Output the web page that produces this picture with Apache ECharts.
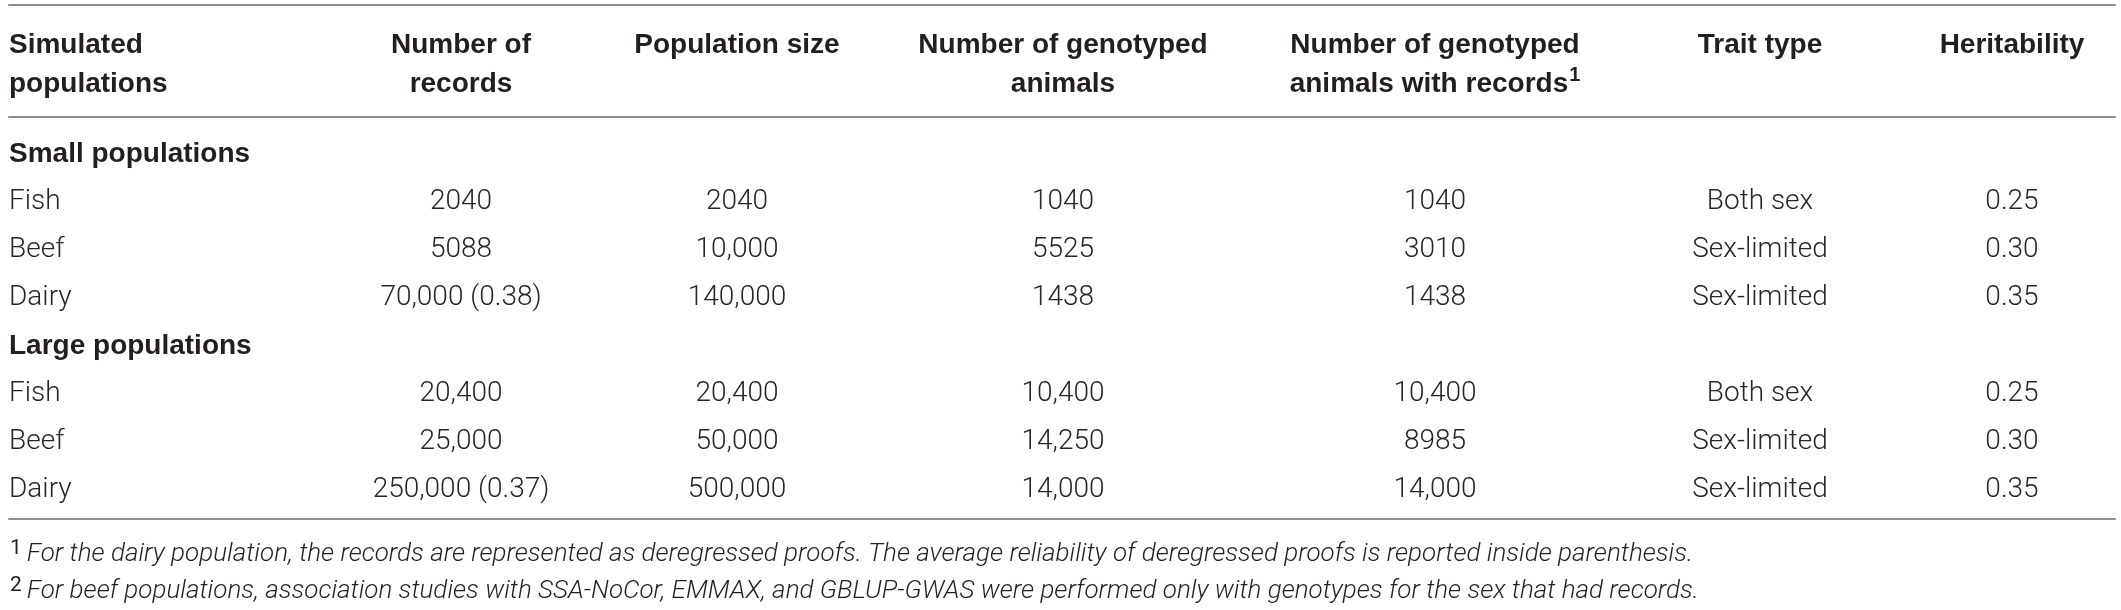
<!DOCTYPE html>
<html>
<head>
<meta charset="UTF-8">
<title>Simulated populations</title>
<script src="https://cdn.jsdelivr.net/npm/echarts@6/dist/echarts.min.js"></script>
<style>
  html, body { margin: 0; background: #fff; }
  #main { width: 2121px; height: 610px; }
</style>
</head>
<body>
<div id="main"></div>
<script>
// table content
var headers = ['Simulated\npopulations', 'Number of\nrecords', 'Population size',
  'Number of genotyped\nanimals', 'Number of genotyped\nanimals with records{sup|1}',
  'Trait type', 'Heritability'];
var groups = ['Small populations', 'Large populations'];
var species = ['Fish', 'Beef', 'Dairy'];
var smallRecords = ['2040', '5088', '70,000 (0.38)'];
var smallPopSize = ['2040', '10,000', '140,000'];
var smallGenotyped = ['1040', '5525', '1438'];
var smallGenoRecords = ['1040', '3010', '1438'];
var largeRecords = ['20,400', '25,000', '250,000 (0.37)'];
var largePopSize = ['20,400', '50,000', '500,000'];
var largeGenotyped = ['10,400', '14,250', '14,000'];
var largeGenoRecords = ['10,400', '8985', '14,000'];
var traitType = ['Both sex', 'Sex-limited', 'Sex-limited'];
var heritability = ['0.25', '0.30', '0.35'];
var footnotes = [
  'For the dairy population, the records are represented as deregressed proofs. The average reliability of deregressed proofs is reported inside parenthesis.',
  'For beef populations, association studies with SSA-NoCor, EMMAX, and GBLUP-GWAS were performed only with genotypes for the sex that had records.'
];

// layout: column anchor on the x scale (first column left aligned)
var colX = [9, 461, 737, 1063, 1435, 1760, 2012];
var BOLD_FONT = 'Liberation Sans, Arial, Helvetica, sans-serif';
var LIGHT_FONT = 'Roboto, Liberation Sans, Arial, sans-serif';
var LINE_H = 39;
var RULE = { color: '#8f8f8f', width: 2 };

var headerCells = headers.map(function (h, c) {
  return { value: [colX[c], 0], text: h, kind: 'head', col: c };
});

var bodyCells = [];
var bodyRows = [];
function addGroup(name, cols) {
  var r = bodyRows.length;
  bodyRows.push(String(r));
  bodyCells.push({ value: [colX[0], r], text: name, kind: 'group', col: 0 });
  species.forEach(function (s, i) {
    var row = bodyRows.length;
    bodyRows.push(String(row));
    var vals = [s].concat(cols.map(function (a) { return a[i]; }));
    vals.forEach(function (v, c) {
      bodyCells.push({ value: [colX[c], row], text: v, kind: 'body', col: c });
    });
  });
}
addGroup(groups[0], [smallRecords, smallPopSize, smallGenotyped, smallGenoRecords, traitType, heritability]);
addGroup(groups[1], [largeRecords, largePopSize, largeGenotyped, largeGenoRecords, traitType, heritability]);

function cellRenderer(cells) {
  return function (params, api) {
    var cell = cells[params.dataIndex];
    var p = api.coord([api.value(0), api.value(1)]);
    var bold = cell.kind !== 'body';
    var head = cell.kind === 'head';
    return {
      type: 'text',
      x: p[0],
      // header cells hang from the first line, so single-line headers sit on line one
      y: head ? p[1] - LINE_H + 4 : p[1],
      style: {
        text: cell.text,
        fill: bold ? '#231f20' : '#262626',
        align: cell.col === 0 ? 'left' : 'center',
        verticalAlign: head ? 'top' : 'middle',
        fontFamily: bold ? BOLD_FONT : LIGHT_FONT,
        fontSize: 28,
        fontWeight: bold ? 'bold' : 300,
        lineHeight: LINE_H,
        rich: {
          sup: { fontFamily: BOLD_FONT, fontSize: 20, fontWeight: 'bold', fill: '#231f20',
                 verticalAlign: 'top', lineHeight: 28, padding: [0, 0, 0, 1] }
        }
      }
    };
  };
}

function hiddenX(grid, pos, show, offset) {
  return {
    gridIndex: grid, type: 'value', min: colX[0], max: 2115, position: pos, offset: offset || 0,
    axisLine: { show: show, onZero: false, lineStyle: RULE },
    axisTick: { show: false }, axisLabel: { show: false }, splitLine: { show: false }
  };
}

var myChart = echarts.init(document.getElementById('main'));
var option = {
  backgroundColor: '#fff',
  animation: false,
  grid: [
    { left: 9, right: 6, top: 5, height: 112 },
    { left: 9, right: 6, top: 130, height: 384 }
  ],
  xAxis: [
    hiddenX(0, 'top', true),
    hiddenX(0, 'bottom', true),
    hiddenX(1, 'bottom', true, 5)
  ],
  yAxis: [
    { gridIndex: 0, type: 'category', data: ['head'], show: false },
    { gridIndex: 1, type: 'category', data: bodyRows, inverse: true, show: false }
  ],
  series: [
    {
      type: 'custom', xAxisIndex: 0, yAxisIndex: 0, silent: true, clip: false,
      renderItem: cellRenderer(headerCells),
      data: headerCells.map(function (c) { return c.value; })
    },
    {
      type: 'custom', xAxisIndex: 2, yAxisIndex: 1, silent: true, clip: false,
      renderItem: cellRenderer(bodyCells),
      data: bodyCells.map(function (c) { return c.value; })
    }
  ],
  graphic: footnotes.map(function (t, i) {
    return {
      type: 'text',
      x: 10,
      y: 554 + i * 37,
      silent: true,
      style: {
        text: '{sup|' + (i + 1) + '}{it|' + t + '}',
        verticalAlign: 'middle',
        rich: {
          sup: { fontFamily: LIGHT_FONT, fontSize: 21, fill: '#231f20', verticalAlign: 'top',
                 lineHeight: 24, padding: [0, 5, 0, 0] },
          it: { fontFamily: LIGHT_FONT, fontSize: 26, fontWeight: 300, fontStyle: 'italic',
                fill: '#231f20', lineHeight: 32 }
        }
      }
    };
  })
};
myChart.setOption(option);
</script>
</body>
</html>
